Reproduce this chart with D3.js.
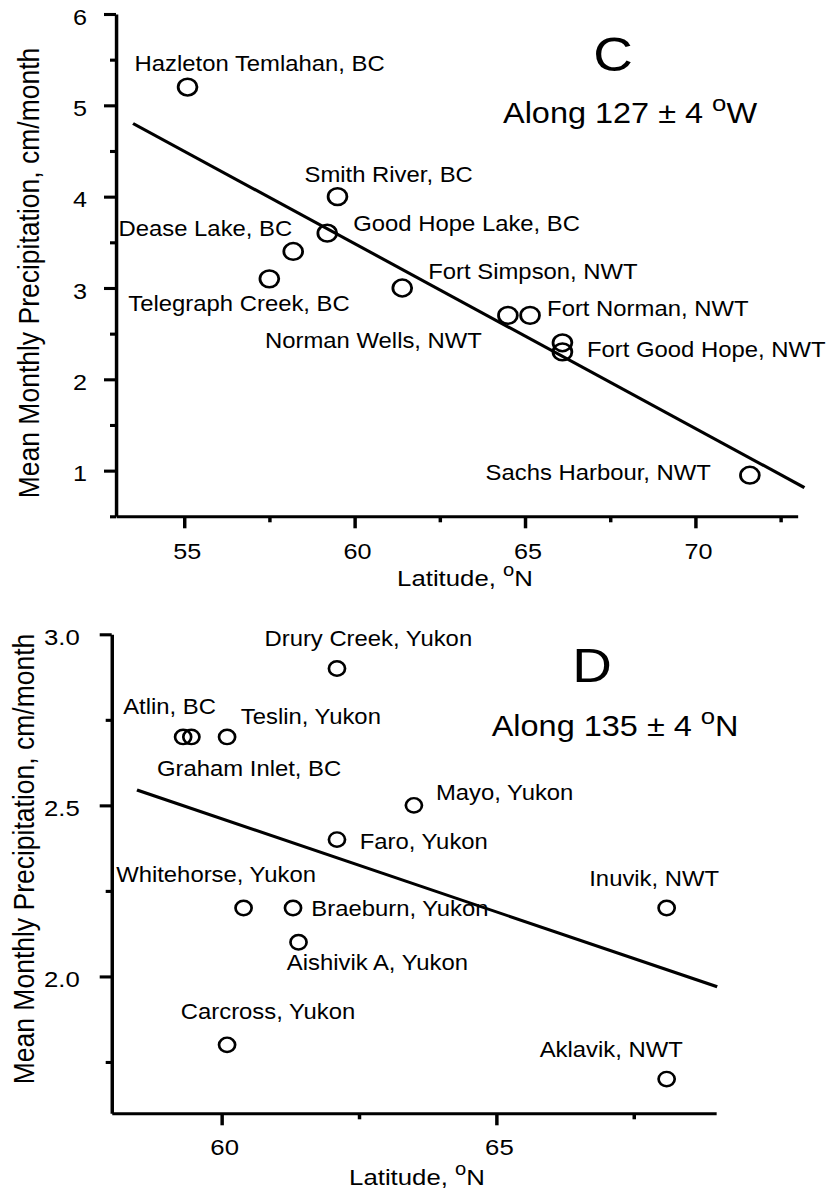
<!DOCTYPE html>
<html>
<head>
<meta charset="utf-8">
<script src="https://cdn.jsdelivr.net/npm/d3@7"></script>
<style>
  html, body { margin: 0; padding: 0; background: #fff; }
  svg { display: block; }
  text { font-family: "Liberation Sans", Arial, Helvetica, sans-serif; fill: #000; white-space: pre; }
</style>
</head>
<body>
<svg id="chart" width="829" height="1192"></svg>
<script>
// ---- Panel C: stations along 127 ± 4 °W ----
const stationsC = ["Hazleton Temlahan, BC", "Smith River, BC", "Good Hope Lake, BC", "Dease Lake, BC",
  "Telegraph Creek, BC", "Fort Simpson, NWT", "Norman Wells, NWT", "Fort Norman, NWT", "",
  "Fort Good Hope, NWT", "Sachs Harbour, NWT"];
const latitudeC = [55.1, 59.5, 59.2, 58.2, 57.5, 61.4, 64.5, 65.15, 66.1, 66.1, 71.6];
const precipC   = [5.2, 4.0, 3.6, 3.4, 3.1, 3.0, 2.7, 2.7, 2.4, 2.3, 0.95];
const fitC      = [15.63, -0.2024];      // intercept, slope
const fitSpanC  = [53.5, 73.2];
const xTicksC   = [55, 60, 65, 70];
const xMinorC   = [57.5, 62.5, 67.5, 72.5];
const yTicksC   = [1, 2, 3, 4, 5, 6];
const yMinorC   = [0.5, 1.5, 2.5, 3.5, 4.5, 5.5];

// ---- Panel D: stations along 135 ± 4 ----
const stationsD = ["Drury Creek, Yukon", "Atlin, BC", "Graham Inlet, BC", "Teslin, Yukon", "Faro, Yukon",
  "Mayo, Yukon", "Inuvik, NWT", "Whitehorse, Yukon", "Braeburn, Yukon", "Aishivik A, Yukon",
  "Carcross, Yukon", "Aklavik, NWT"];
const latitudeD = [62.1, 59.3, 59.45, 60.1, 62.1, 63.5, 68.1, 60.4, 61.3, 61.4, 60.1, 68.1];
const precipD   = [2.9, 2.7, 2.7, 2.7, 2.4, 2.5, 2.2, 2.2, 2.2, 2.1, 1.8, 1.7];
const fitD      = [5.728, -0.05445];
const fitSpanD  = [58.46, 69.02];
const xTicksD   = [60, 65];
const xMinorD   = [62.5, 67.5];
const yTicksD   = [2.0, 2.5, 3.0];
const yMinorD   = [1.75, 2.25, 2.75];

// Label placement (pixel offsets from each marker: dx, dy, anchor)
const labelPosC = [[-53, -16, "start"], [-33, -15, "start"], [26, -2, "start"], [-1, -15.5, "end"],
  [-141, 32.5, "start"], [26, -9, "start"], [-26, 33, "end"], [17, 1, "start"], [0, 0, "start"],
  [24.5, 5, "start"], [-39, 5, "end"]];
const labelPosD = [[-72.5, -22.3, "start"], [-60, -23.4, "start"], [-34.4, 39, "start"], [13.7, -13.4, "start"],
  [22.7, 9.3, "start"], [22, -5, "start"], [-77.4, -22.3, "start"], [-127.4, -25.7, "start"],
  [18.3, 8.3, "start"], [-11.7, 27.7, "start"], [-46.3, -26, "start"], [-127, -22, "start"]];

const SX = 1.12;   // horizontal stretch of the whole figure
const FONT = '"Liberation Sans", Arial, Helvetica, sans-serif';
const svg = d3.select("#chart");
svg.append("rect").attr("width", 829).attr("height", 1192).attr("fill", "#fff");
const root = svg.append("g").attr("transform", `scale(${SX},1)`);

function supLabel(g, x, y, size, before, sup, after, supSize, raise) {
  const t = g.append("text").attr("x", x).attr("y", y).attr("font-size", size);
  t.append("tspan").text(before);
  t.append("tspan").attr("font-size", supSize).attr("dy", -raise).text(sup);
  t.append("tspan").attr("dy", raise).text(after);
  return t;
}

function panel(cfg) {
  const x = d3.scaleLinear().domain(cfg.xDomain).range([cfg.left / SX, cfg.right / SX]);
  const y = d3.scaleLinear().domain(cfg.yDomain).range([cfg.bottom, cfg.top]);
  const g = root.append("g");

  const styleAxis = (a) => {
    a.attr("font-family", FONT).attr("font-size", cfg.tickFont);
    a.selectAll("path, line").attr("stroke", "#000").attr("stroke-width", 3.1);
  };

  // x axis: minor then major ticks
  g.append("g").attr("transform", `translate(0,${cfg.bottom})`)
    .call(d3.axisBottom(x).tickValues(cfg.xMinor).tickSize(6).tickSizeOuter(0).tickFormat(""))
    .call(styleAxis).select(".domain").remove();
  const xa = g.append("g").attr("transform", `translate(0,${cfg.bottom})`)
    .call(d3.axisBottom(x).tickValues(cfg.xTicks).tickSize(12).tickSizeOuter(0)
      .tickPadding(cfg.xPad).tickFormat(d3.format("d")))
    .call(styleAxis);
  xa.selectAll("text").attr("dx", 2.5 / SX);

  // y axis
  g.append("g").attr("transform", `translate(${cfg.left / SX},0)`)
    .call(d3.axisLeft(y).tickValues(cfg.yMinor).tickSize(6 / SX).tickSizeOuter(0).tickFormat(""))
    .call(styleAxis).select(".domain").remove();
  const ya = g.append("g").attr("transform", `translate(${cfg.left / SX},0)`)
    .call(d3.axisLeft(y).tickValues(cfg.yTicks).tickSize(12 / SX).tickSizeOuter(0)
      .tickPadding(cfg.yPad / SX).tickFormat(cfg.yFormat))
    .call(styleAxis);
  ya.selectAll("text").attr("dy", "0.45em");

  // regression line
  const fitPts = cfg.fitSpan.map(v => [v, cfg.fit[0] + cfg.fit[1] * v]);
  g.append("path")
    .attr("d", d3.line().x(d => x(d[0])).y(d => y(d[1]))(fitPts))
    .attr("fill", "none").attr("stroke", "#000").attr("stroke-width", 3);

  // stations
  const pts = cfg.names.map((n, i) => ({ name: n, lat: cfg.lat[i], p: cfg.precip[i], pos: cfg.labelPos[i] }));
  g.selectAll("circle.st").data(pts).join("circle")
    .attr("class", "st")
    .attr("cx", d => x(d.lat)).attr("cy", d => y(d.p))
    .attr("r", cfg.r).attr("fill", "none").attr("stroke", "#000").attr("stroke-width", cfg.sw);
  g.selectAll("text.st").data(pts.filter(d => d.name)).join("text")
    .attr("class", "st")
    .attr("x", d => x(d.lat) + d.pos[0] / SX).attr("y", d => y(d.p) + d.pos[1])
    .attr("text-anchor", d => d.pos[2])
    .attr("font-size", 21.3).text(d => d.name);

  // axis titles
  g.append("text")
    .attr("transform", `translate(${cfg.yTitleX / SX},${cfg.yTitleY}) rotate(-90)`)
    .attr("text-anchor", "middle").attr("font-size", 26.5)
    .text("Mean Monthly Precipitation, cm/month");
  supLabel(g, cfg.xTitleX / SX, cfg.xTitleY, 23, "Latitude, ", "o", "N", 18, 10)
    .attr("text-anchor", "middle");

  // panel letter and transect note
  g.append("text").attr("x", cfg.letterX / SX).attr("y", cfg.letterY)
    .attr("text-anchor", "middle").attr("font-size", 49).text(cfg.letter);
  supLabel(g, cfg.noteX / SX, cfg.noteY, 29, cfg.note, "o", cfg.noteUnit, 23, 12);
}

panel({
  names: stationsC, lat: latitudeC, precip: precipC, labelPos: labelPosC,
  fit: fitC, fitSpan: fitSpanC,
  xDomain: [53, 73], yDomain: [0.5, 6],
  left: 116, right: 797.6, bottom: 516.3, top: 14,
  xTicks: xTicksC, xMinor: xMinorC, yTicks: yTicksC, yMinor: yMinorC,
  yFormat: d3.format("d"), tickFont: 22.5, xPad: 15, yPad: 17,
  r: 8.4, sw: 2.5,
  yTitleX: 39, yTitleY: 273, xTitleX: 465, xTitleY: 586,
  letter: "C", letterX: 613, letterY: 71,
  note: "Along 127 ± 4 ", noteUnit: "W", noteX: 503, noteY: 123.5
});

panel({
  names: stationsD, lat: latitudeD, precip: precipD, labelPos: labelPosD,
  fit: fitD, fitSpan: fitSpanD,
  xDomain: [58, 69], yDomain: [1.6, 3.0],
  left: 111.7, right: 716.1, bottom: 1113.3, top: 634.3,
  xTicks: xTicksD, xMinor: xMinorD, yTicks: yTicksD, yMinor: yMinorD,
  yFormat: d3.format(".1f"), tickFont: 23, xPad: 13, yPad: 20,
  r: 7.2, sw: 2.4,
  yTitleX: 33.5, yTitleY: 859, xTitleX: 417, xTitleY: 1185,
  letter: "D", letterX: 592, letterY: 682,
  note: "Along 135 ± 4 ", noteUnit: "N", noteX: 491.7, noteY: 735.7
});
</script>
</body>
</html>
